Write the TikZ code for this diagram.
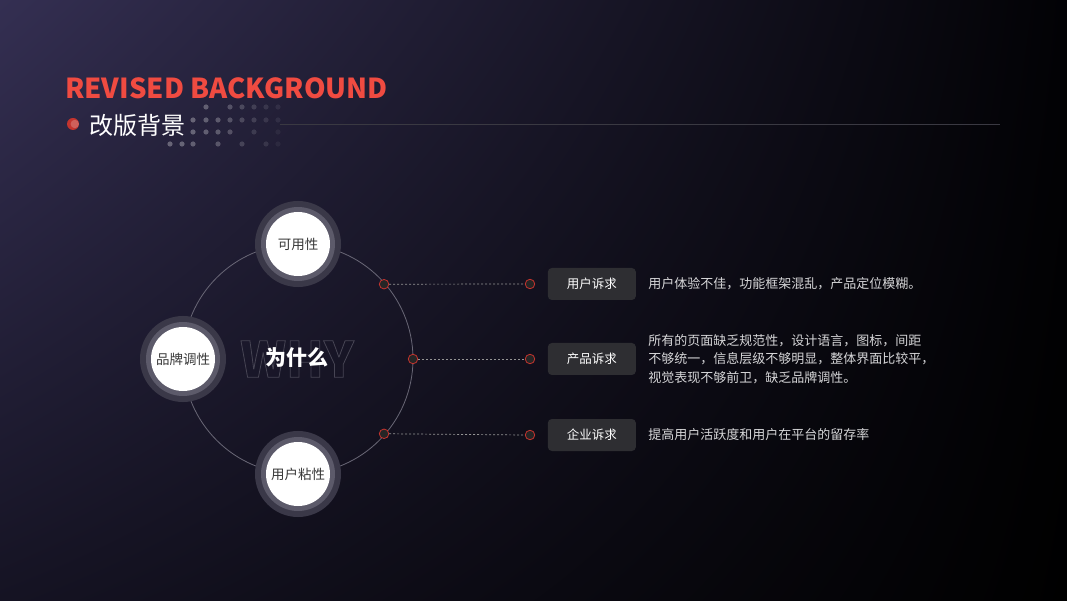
\documentclass[tikz,border=0pt]{standalone}
\usepackage{fontspec}
\setmainfont{Noto Sans CJK SC}
\usetikzlibrary{positioning,calc,shadings}
\definecolor{rbbgtl}{RGB}{52,47,82}
\definecolor{rbbgtr}{RGB}{2,2,5}
\definecolor{rbbgbl}{RGB}{21,19,35}
\definecolor{rbred}{RGB}{240,75,65}
\definecolor{rbpinred}{RGB}{196,52,46}
\definecolor{rbouter}{RGB}{58,56,72}
\definecolor{rbinner}{RGB}{92,90,106}
\definecolor{rbring}{RGB}{105,103,118}
\definecolor{rbrule}{RGB}{58,57,66}
\definecolor{rbtagbg}{RGB}{46,46,50}
\definecolor{rbtext}{RGB}{214,214,216}
\tikzset{
  rbfont/.style={font=\fontsize{12.5}{18.5}\selectfont},
  rbtitle/.style={font=\fontsize{27.5}{32}\selectfont\bfseries, text=rbred, inner sep=0pt},
  rbsub/.style={font=\fontsize{24}{28}\selectfont, text=white, inner sep=0pt},
  rbnode/.style={
    circle, fill=white, minimum size=64pt, inner sep=0pt, outer sep=0pt,
    preaction={draw=rbouter, line width=22pt},
    preaction={draw=rbinner, line width=10pt},
    font=\fontsize{13.5}{16}\selectfont, text=black!78
  },
  rbpin/.style={circle, draw=rbpinred, fill=black!85, line width=0.8pt, minimum size=9.5pt, inner sep=0pt},
  rblink/.style={draw=black!42, line width=0.7pt, dash pattern=on 2pt off 2pt},
  rbtag/.style={
    rbfont, fill=rbtagbg, text=white, rounded corners=4pt,
    minimum width=88pt, minimum height=32pt, inner sep=0pt
  },
  rbdesc/.style={font=\fontsize{13}{18.5}\selectfont, text=rbtext, align=left, inner sep=0pt},
}
\newcommand{\rbhollow}[1]{\special{pdf:literal direct 1 Tr 0.8 w 0.28 0.27 0.33 RG}#1\special{pdf:literal direct 0 Tr}}

\begin{document}
\begin{tikzpicture}[x=1pt, y=1pt]
    \useasboundingbox (0,0) rectangle (1067,600);
    % 背景
    \shade[upper left=rbbgtl, upper right=rbbgtr, lower left=rbbgbl, lower right=black]
      (0,0) rectangle (1067,600);

    % 标题
    \node[rbtitle, anchor=west] (entitle) at (65,512) {REVISED BACKGROUND};
    \node[circle, fill=rbpinred, minimum size=12pt, inner sep=0pt] (mark) at (73,476) {};
    \fill[white, opacity=0.22] ([xshift=1.8pt]mark.center) circle[radius=4.2];
    \node[rbsub, anchor=west] (cntitle) at (89,475) {改版背景};
    \foreach \x/\y/\o in {206/493/.28, 230/493/.22, 242/493/.18, 254/493/.14, 266/493/.1, 278/493/.07,
      193/480/.3, 206/480/.28, 218/480/.26, 230/480/.22, 242/480/.18, 254/480/.14, 266/480/.1, 278/480/.07,
      193/468/.3, 206/468/.28, 218/468/.26, 230/468/.22, 254/468/.12, 278/468/.05,
      170/456/.3, 182/456/.3, 193/456/.28, 218/456/.24, 242/456/.16, 266/456/.1, 278/456/.05}
      \fill[white, opacity=\o] (\x,\y) circle[radius=2.6];
    \fill[rbrule] (280,475) rectangle (1000,476);

    % 中心圆
    \coordinate (c) at (298,241);
    \draw[rbring, line width=0.8pt] (c) circle[radius=115];
    \node[font=\fontsize{49}{49}\selectfont\bfseries] (why) at (297,241) {\rbhollow{WHY}};
    \node[font=\fontsize{21}{24}\selectfont\bfseries, text=white] (wsm) at (297,242) {为什么};

    \node[rbnode] (kyx) at ($(c)+(90:115)$) {可用性};
    \node[rbnode] (ppdx) at ($(c)+(180:115)$) {品牌调性};
    \node[rbnode] (yhnx) at ($(c)+(270:115)$) {用户粘性};

    % 诉求
    \node[rbpin] (p1) at ($(c)+(41:114)$) {};
    \node[rbpin] (p2) at ($(c)+(0:115)$) {};
    \node[rbpin] (p3) at ($(c)+(-41:114)$) {};
    \node[rbpin] (q1) at (530,316) {};
    \node[rbpin] (q2) at (530,241) {};
    \node[rbpin] (q3) at (530,165) {};
    \draw[rblink] (p1.east) -- (q1.west);
    \draw[rblink] (p2.east) -- (q2.west);
    \draw[rblink] (p3.east) -- (q3.west);

    \node[rbtag, right=12.5pt of q1] (user) {用户诉求};
    \node[rbtag, right=12.5pt of q2] (prod) {产品诉求};
    \node[rbtag, right=12.5pt of q3] (corp) {企业诉求};
    \node[rbdesc, right=12pt of user] (userd) {用户体验不佳，功能框架混乱，产品定位模糊。};
    \node[rbdesc, right=12pt of prod] (prodd) {所有的页面缺乏规范性，设计语言，图标，间距\\不够统一，信息层级不够明显，整体界面比较平，\\视觉表现不够前卫，缺乏品牌调性。};
    \node[rbdesc, right=12pt of corp] (corpd) {提高用户活跃度和用户在平台的留存率};
  \end{tikzpicture}
\end{document}
